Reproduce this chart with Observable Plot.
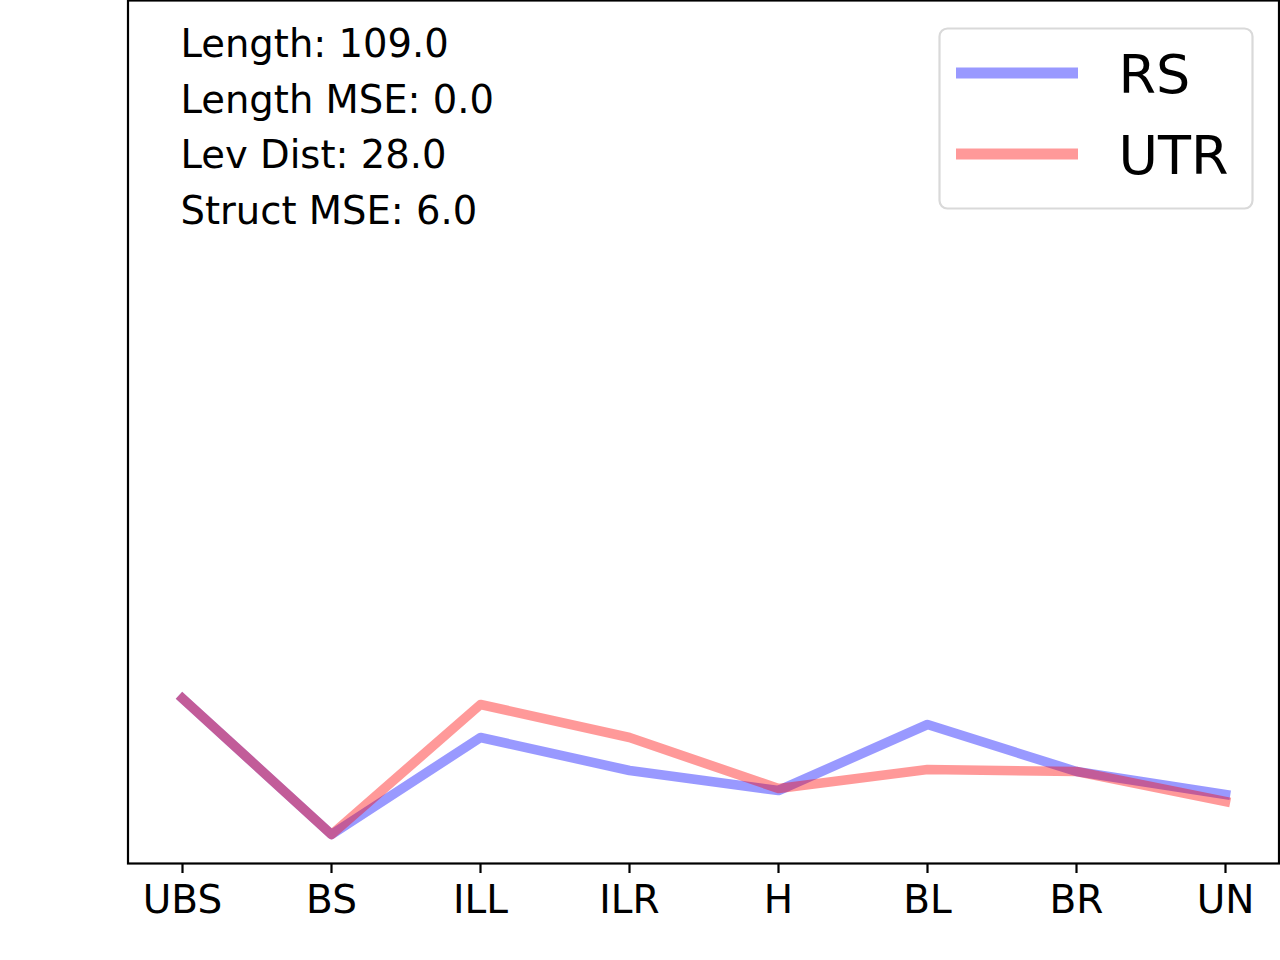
<!DOCTYPE html>
<html>
<head>
<meta charset="utf-8">
<script src="https://cdn.jsdelivr.net/npm/d3@7"></script>
<script src="https://cdn.jsdelivr.net/npm/@observablehq/plot@0.6"></script>
<style>
  html, body { margin: 0; padding: 0; background: #fff; }
  #chart { width: 1280px; height: 960px; }
</style>
</head>
<body>
<div id="chart"></div>
<script>
// categories on the x axis
const categories = ["UBS", "BS", "ILL", "ILR", "H", "BL", "BR", "UN"];
// series values (arbitrary units)
const rsValues  = [165, 29, 126, 93, 73, 139, 92, 69];
const utrValues = [165, 29, 159, 126, 75, 94, 92, 62];
const seriesNames = ["RS", "UTR"];
const seriesColors = ["blue", "red"];
const legendColors = ["#9999ff", "#ff9999"];
const statLines = ["Length: 109.0", "Length MSE: 0.0", "Lev Dist: 28.0", "Struct MSE: 6.0"];
const yDomain = [0, 863];

const data = [];
categories.forEach((c, i) => data.push({series: "RS", cat: c, value: rsValues[i]}));
categories.forEach((c, i) => data.push({series: "UTR", cat: c, value: utrValues[i]}));

const font = "DejaVu Sans";

const plot = Plot.plot({
  width: 1280,
  height: 960,
  marginLeft: 127.5,
  marginRight: 1.5,
  marginTop: 0,
  marginBottom: 97,
  style: {fontFamily: font, fontSize: "38px", color: "black", background: "white"},
  x: {type: "point", domain: categories, padding: 0.35, align: 0.5},
  y: {domain: yDomain, axis: null},
  color: {domain: seriesNames, range: seriesColors},
  marks: [
    Plot.line(data, {
      x: "cat", y: "value", z: "series", stroke: "series",
      strokeWidth: 9.6, strokeOpacity: 0.4,
      strokeLinecap: "square", strokeLinejoin: "round"
    }),
    Plot.text([statLines.join("\n")], {
      frameAnchor: "top-left", textAnchor: "start", lineAnchor: "top",
      lineHeight: 1.445, fontSize: 38.5, dx: 52.5, dy: 17, fill: "black"
    }),
    Plot.axisX({
      tickSize: 10, tickPadding: 12, fontSize: 39, strokeWidth: 2.2,
      label: null, stroke: "black", fill: "black"
    }),
    Plot.frame({stroke: "black", strokeWidth: 2.2})
  ]
});

document.getElementById("chart").appendChild(plot);

// legend drawn into the same SVG
const svg = d3.select(plot);
const lg = svg.append("g").attr("text-anchor", "start");
lg.append("rect")
  .attr("x", 939.5).attr("y", 28.5).attr("width", 313).attr("height", 180)
  .attr("rx", 8).attr("ry", 8)
  .attr("fill", "white").attr("fill-opacity", 0.8)
  .attr("stroke", "#d9d9d9").attr("stroke-width", 2.2);
seriesNames.forEach((name, i) => {
  const yLine = 73 + i * 81;
  lg.append("line")
    .attr("x1", 956).attr("x2", 1078).attr("y1", yLine).attr("y2", yLine)
    .attr("stroke", legendColors[i]).attr("stroke-width", 11);
  lg.append("text")
    .attr("x", 1118.5).attr("y", yLine + 19.5)
    .attr("text-anchor", "start")
    .attr("font-family", font).attr("font-size", 54).attr("fill", "black")
    .text(name);
});
</script>
</body>
</html>
